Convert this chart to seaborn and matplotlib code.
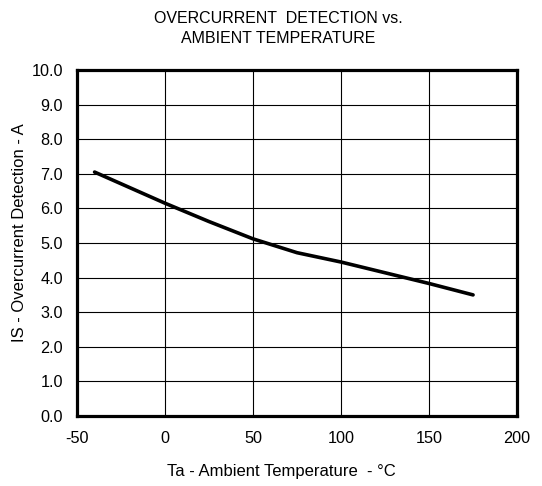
import pandas as pd
import matplotlib
matplotlib.use("Agg")
import matplotlib.pyplot as plt
import seaborn as sns

# Curve values
temperature = [-40, 0, 25, 50, 75, 100, 125, 150, 175]
overcurrent = [7.05, 6.15, 5.62, 5.12, 4.72, 4.45, 4.14, 3.83, 3.5]

x_ticks = [-50, 0, 50, 100, 150, 200]
y_ticks = [0, 1, 2, 3, 4, 5, 6, 7, 8, 9, 10]

df = pd.DataFrame({"Ta": temperature, "IS": overcurrent})

sns.set_style("white")
plt.rcParams['font.family'] = ['Liberation Sans', 'DejaVu Sans']
plt.rcParams['axes.unicode_minus'] = False
plt.rcParams['text.color'] = 'black'
plt.rcParams['axes.labelcolor'] = 'black'

fig = plt.figure(figsize=(5.42, 4.86), dpi=100)
ax = fig.add_axes([0.142, 0.144, 0.812, 0.712])

sns.lineplot(data=df, x="Ta", y="IS", ax=ax, color="black", linewidth=2.6)

ax.set_xlim(-50, 200)
ax.set_ylim(0, 10)
ax.set_xticks(x_ticks)
ax.set_yticks(y_ticks)
ax.set_yticklabels([f"{v:.1f}" for v in y_ticks])
ax.tick_params(length=0, labelsize=11.7, colors="black")
ax.tick_params(axis="x", pad=11)
ax.tick_params(axis="y", pad=10)
ax.grid(True, color="black", linewidth=0.8)
for s in ax.spines.values():
    s.set_visible(True)
    s.set_color("black")
    s.set_linewidth(2.3)

ax.set_xlabel("Ta - Ambient Temperature  - °C", fontsize=12, color="black")
ax.xaxis.set_label_coords(0.464, -0.14)
ax.set_ylabel("IS - Overcurrent Detection - A", fontsize=12, color="black")
ax.yaxis.set_label_coords(-0.114, 0.53)
fig.text(0.513, 0.978, "OVERCURRENT  DETECTION vs.\nAMBIENT TEMPERATURE", fontsize=11.5,
         ha="center", va="top", linespacing=1.45, color="black")

fig.savefig("out.png", dpi=100)
